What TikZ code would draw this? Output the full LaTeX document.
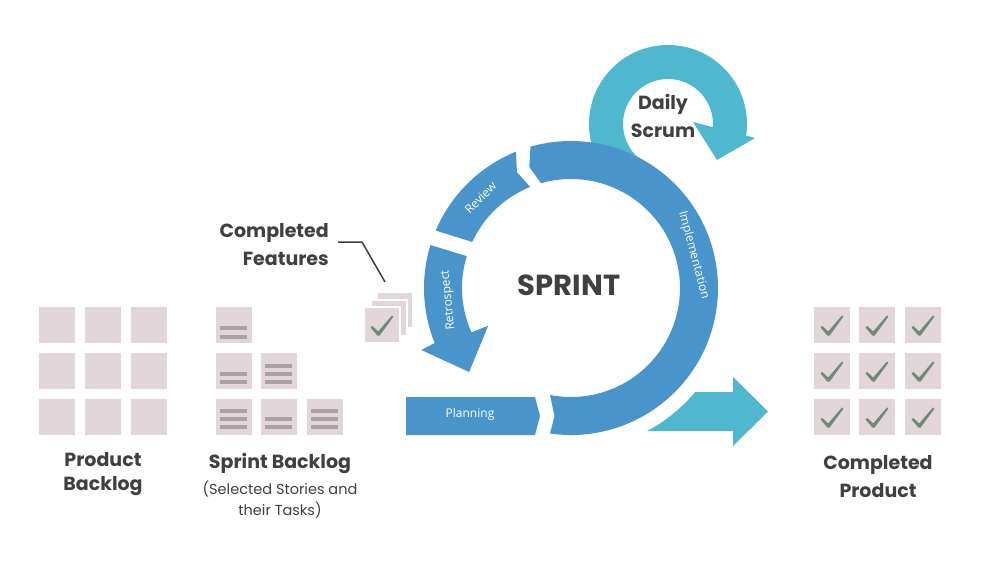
\documentclass[tikz,border=0pt]{standalone}
\usepackage{fontspec}
\setmainfont{Poppins}
\newfontfamily\lblfont{Open Sans}
\definecolor{ringblue}{HTML}{4A94CC}
\definecolor{scrumteal}{HTML}{4FB8CF}
\definecolor{cardfill}{HTML}{E2D6DB}
\definecolor{taskline}{HTML}{A8A1A6}
\definecolor{chkgreen}{HTML}{6E8B78}
\definecolor{txtdark}{HTML}{404040}
\newcommand\chkmark[2]{%
  \fill[chkgreen,shift={(#1,-#2)}] (6.5,-20.5) -- (8.2,-18.9) -- (14.2,-24.4) -- (28,-8.4) -- (29.3,-9.8) -- (15.6,-28.6) -- (13.4,-28.6) -- cycle;}
\newcommand\taskl[3]{%
  \draw[taskline,line width=3.3pt] (#1+4,-#2-#3) -- (#1+31,-#2-#3);}
\begin{document}
\begin{tikzpicture}[x=1pt,y=1pt,
  card/.style={fill=cardfill},
  bigtxt/.style={text=txtdark,font=\fontsize{19}{24}\selectfont\bfseries,align=center,inner sep=0pt},
  smalltxt/.style={text=txtdark,font=\fontsize{14.5}{21}\selectfont,align=center,inner sep=0pt},
  ringtxt/.style={text=white,font=\lblfont\fontsize{12}{14}\selectfont,inner sep=0pt},
  callout/.style={draw=txtdark,line width=1.5pt}]
\fill[white] (0,0) rectangle (982,-563);
\useasboundingbox (0,0) rectangle (982,-563);

% ---- Daily scrum circular arrow
\begin{scope}[shift={(668,-124)}]
\fill[scrumteal] (230:79pt) arc[start angle=230,end angle=-8.5,radius=79pt]
  -- (87,-14) -- (49,-36) -- (25,2) -- (-4:45pt)
  arc[start angle=-4,end angle=230,radius=45pt] -- cycle;
\end{scope}

% ---- Sprint ring
\begin{scope}[shift={(571,-288)}]
% implementation
\fill[ringblue] (-98.2:147pt) arc[start angle=-98.2,end angle=106,radius=147pt]
  -- (109:128pt) -- (106:109pt) arc[start angle=106,end angle=-101.1,radius=109pt]
  -- (-16.5,-128) -- cycle;
% review
\fill[ringblue] (112:147pt) -- (115:128pt) -- (112:109pt)
  arc[start angle=112,end angle=155,radius=109pt] -- (157:147pt)
  arc[start angle=157,end angle=112,radius=147pt] -- cycle;
% retrospect
\fill[ringblue] (163:147pt) arc[start angle=163,end angle=202,radius=147pt]
  -- (202.5:162pt) -- (219.5:132pt) -- (204.5:91pt) -- (204:109pt)
  arc[start angle=204,end angle=163,radius=109pt] -- cycle;
% planning
\fill[ringblue] (-165,-109) -- (-36,-109) -- (-31,-128) -- (-36,-147) -- (-165,-147) -- cycle;
% completed product arrow
\fill[scrumteal] (-62:162pt) arc[start angle=-62,end angle=-40,radius=162pt]
  -- (162,-104.1) -- (162,-89) -- (197,-123.5) -- (162,-158) -- (162,-143) -- cycle;
% labels
\node[ringtxt] (planning) at (-101,-126) {Planning};
\node[ringtxt,rotate=-75] (impl) at (15:127pt) {Implementation};
\node[ringtxt,rotate=45] (review) at (135:128pt) {Review};
\node[ringtxt,rotate=95.6] (retro) at (185.6:123pt) {Retrospect};
\node[text=txtdark,font=\fontsize{29}{30}\selectfont\bfseries,inner sep=0pt] (sprint) at (-2,3) {SPRINT};
\end{scope}

\node[bigtxt,font=\fontsize{19}{28}\selectfont\bfseries] (daily) at (663,-116) {Daily\\Scrum};

% ---- Product backlog
\foreach \x in {39,85,131}
  \foreach \y in {307,353,399}
    \fill[card] (\x,-\y) rectangle ++(36,-36);
\node[bigtxt] (pb) at (103,-474) {Product\\Backlog};

% ---- Sprint backlog
\foreach \x/\y in {216/307,216/353,261/353,216/399,261/399,307/399}
  \fill[card] (\x,-\y) rectangle ++(36,-36);
\taskl{216}{307}{21}\taskl{216}{307}{30}
\taskl{216}{353}{21}\taskl{216}{353}{29}
\taskl{261}{353}{13}\taskl{261}{353}{21}\taskl{261}{353}{29}
\taskl{216}{399}{12}\taskl{216}{399}{20}\taskl{216}{399}{28}
\taskl{261}{399}{20}\taskl{261}{399}{28}
\taskl{307}{399}{12}\taskl{307}{399}{20}\taskl{307}{399}{28}
\node[bigtxt] (sb) at (280,-463) {Sprint Backlog};
\node[smalltxt] (sbsub) at (280,-500) {(Selected Stories and\\their Tasks)};

% ---- Completed features
\fill[card,draw=white,line width=1.5pt] (377,-292) rectangle ++(36,-36);
\fill[card,draw=white,line width=1.5pt] (371,-300) rectangle ++(36,-36);
\fill[card,draw=white,line width=1.5pt] (364,-307) rectangle ++(36,-36);
\chkmark{364}{307}
\node[bigtxt,font=\fontsize{19}{28}\selectfont\bfseries,align=right,anchor=east] (cf) at (329,-245) {Completed\\Features};
\coordinate (c1) at (338,-242);
\coordinate (c2) at (362,-242);
\coordinate (c3) at (385,-282);
\draw[callout] (c1) -- (c2) -- (c3);

% ---- Completed product
\foreach \x in {814,859,905}
  \foreach \y in {307,353,399}
    {\fill[card] (\x,-\y) rectangle ++(36,-36);
     \chkmark{\x}{\y}}
\node[bigtxt,font=\fontsize{19}{28}\selectfont\bfseries] (cp) at (878,-477) {Completed\\Product};
\end{tikzpicture}
\end{document}
